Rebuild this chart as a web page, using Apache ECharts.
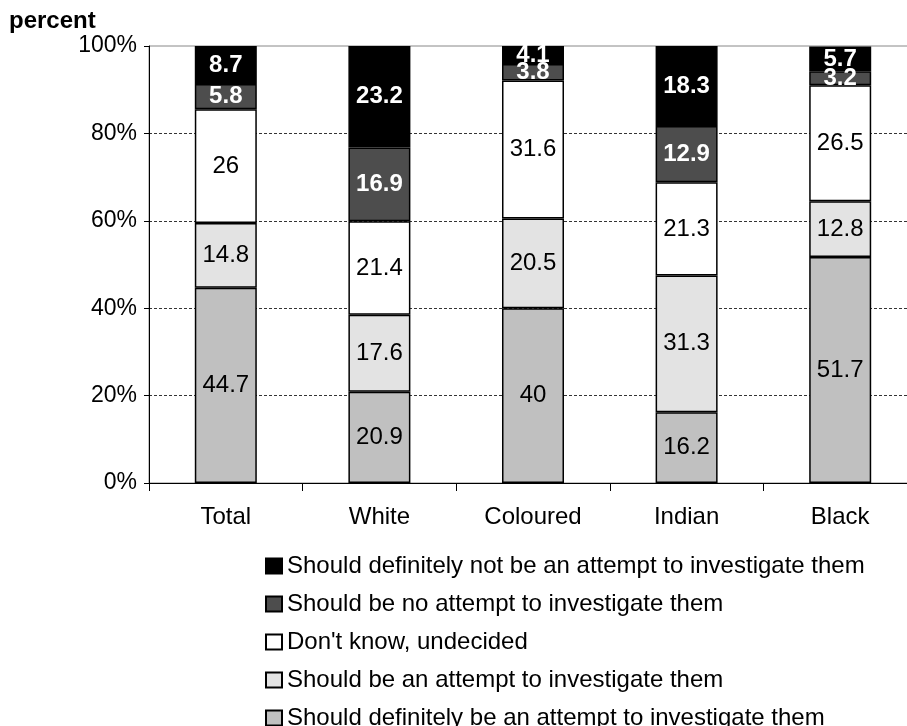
<!DOCTYPE html>
<html>
<head>
<meta charset="utf-8">
<script src="https://cdn.jsdelivr.net/npm/echarts@6/dist/echarts.min.js"></script>
<style>
html,body{margin:0;padding:0;background:#fff;overflow:hidden;width:907px;height:726px;}
#chart{width:940px;height:726px;}
</style>
</head>
<body>
<div id="chart"></div>
<script>
const categories = ['Total', 'White', 'Coloured', 'Indian', 'Black'];
const seriesNames = [
  'Should definitely be an attempt to investigate them',
  'Should be an attempt to investigate them',
  "Don't know, undecided",
  'Should be no attempt to investigate them',
  'Should definitely not be an attempt to investigate them'
];
const definitelyAttempt = [44.7, 20.9, 40, 16.2, 51.7];
const shouldAttempt = [14.8, 17.6, 20.5, 31.3, 12.8];
const dontKnow = [26, 21.4, 31.6, 21.3, 26.5];
const noAttempt = [5.8, 16.9, 3.8, 12.9, 3.2];
const definitelyNot = [8.7, 23.2, 4.1, 18.3, 5.7];
const yTicks = [0, 20, 40, 60, 80, 100];

const values = [definitelyAttempt, shouldAttempt, dontKnow, noAttempt, definitelyNot];
const colors = ['#c0c0c0', '#e3e3e3', '#ffffff', '#4d4d4d', '#000000'];
const FONT = '"Liberation Sans", Arial, sans-serif';

const chart = echarts.init(document.getElementById('chart'), null, {renderer: 'canvas'});

const series = values.map((v, i) => ({
  name: seriesNames[i],
  type: 'bar',
  stack: 'total',
  barWidth: 62,
  data: v,
  itemStyle: {color: colors[i], borderColor: '#000', borderWidth: 1.5},
  label: {
    show: true,
    position: 'inside',
    fontFamily: FONT,
    fontSize: 24,
    color: i >= 3 ? '#fff' : '#000',
    fontWeight: i >= 3 ? 'bold' : 'normal',
    formatter: p => String(p.value)
  },
  emphasis: {disabled: true}
}));

chart.setOption({
  animation: false,
  backgroundColor: '#fff',
  title: {
    text: 'percent',
    left: 4,
    top: 4,
    textStyle: {fontFamily: FONT, fontSize: 24, fontWeight: 'bold', color: '#000'}
  },
  grid: {
    left: 149, top: 46, width: 768, height: 437,
    show: true, borderColor: '#888', borderWidth: 1, backgroundColor: 'transparent'
  },
  legend: {
    orient: 'vertical',
    left: 260,
    top: 549,
    height: 240,
    itemWidth: 16,
    itemHeight: 15,
    itemGap: 14,
    icon: 'rect',
    data: seriesNames.slice().reverse(),
    textStyle: {fontFamily: FONT, fontSize: 24, color: '#000', lineHeight: 24}
  },
  xAxis: {
    type: 'category',
    data: categories,
    axisLine: {lineStyle: {color: '#000', width: 1}},
    axisTick: {show: true, length: 8, lineStyle: {color: '#000'}},
    axisLabel: {fontFamily: FONT, fontSize: 24, color: '#000', margin: 22},
    splitLine: {show: false}
  },
  yAxis: {
    type: 'value',
    min: yTicks[0],
    max: yTicks[yTicks.length - 1],
    interval: 20,
    axisLine: {show: true, lineStyle: {color: '#000', width: 1}},
    axisTick: {show: true, length: 5, lineStyle: {color: '#000'}},
    axisLabel: {fontFamily: FONT, fontSize: 23, color: '#000', margin: 12, formatter: '{value}%'},
    splitLine: {
      show: true,
      lineStyle: {
        color: ['#000', '#000', '#000', '#000', '#000', 'rgba(0,0,0,0)'],
        type: [3, 2],
        width: 0.8
      }
    }
  },
  series: series
});
</script>
</body>
</html>
